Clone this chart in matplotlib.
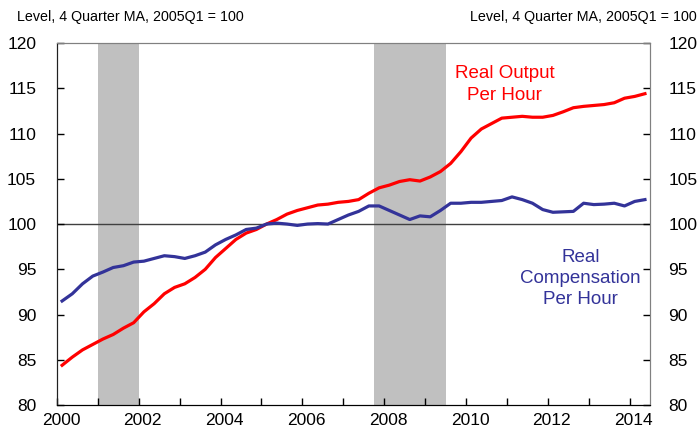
import matplotlib.pyplot as plt
import numpy as np
from matplotlib.transforms import ScaledTranslation

plt.rcParams['font.family'] = ['Liberation Sans', 'DejaVu Sans']

# quarterly, 2000Q1 .. 2014Q2 (4 quarter moving average, 2005Q1 = 100)
output_per_hour = [
    84.4, 85.3, 86.1, 86.7, 87.3, 87.8, 88.5, 89.1, 90.3, 91.2,
    92.3, 93.0, 93.4, 94.1, 95.0, 96.3, 97.3, 98.3, 99.0, 99.4,
    100.0, 100.5, 101.1, 101.5, 101.8, 102.1, 102.2, 102.4, 102.5, 102.7,
    103.4, 104.0, 104.3, 104.7, 104.9, 104.75, 105.2, 105.8, 106.7, 108.0,
    109.5, 110.5, 111.1, 111.7, 111.8, 111.9, 111.8, 111.8, 112.0, 112.4,
    112.85, 113.0, 113.1, 113.2, 113.4, 113.9, 114.1, 114.4,
]
comp_per_hour = [
    91.5, 92.3, 93.4, 94.25, 94.7, 95.2, 95.4, 95.8, 95.9, 96.2,
    96.5, 96.4, 96.2, 96.5, 96.9, 97.7, 98.3, 98.8, 99.4, 99.55,
    100.0, 100.1, 100.0, 99.85, 100.0, 100.05, 100.0, 100.5, 101.0, 101.4,
    102.0, 102.0, 101.5, 101.0, 100.5, 100.9, 100.8, 101.5, 102.3, 102.3,
    102.4, 102.4, 102.5, 102.6, 103.0, 102.7, 102.3, 101.6, 101.3, 101.35,
    101.4, 102.3, 102.15, 102.2, 102.3, 102.0, 102.5, 102.7,
]
recessions = [(2001.0, 2002.0), (2007.75, 2009.5)]
year_labels = ["2000", "2002", "2004", "2006", "2008", "2010", "2012", "2014"]
y_ticks = [80, 85, 90, 95, 100, 105, 110, 115, 120]

n = len(output_per_hour)
t = 2000 + (np.arange(n) + 0.5) / 4.0

fig = plt.figure(figsize=(6.99, 4.37), dpi=100)
ax = fig.add_axes([0.0815, 0.073, 0.8485, 0.8286])

for a, b in recessions:
    ax.axvspan(a, b, color='#c0c0c0', lw=0, zorder=0)
ax.axhline(100, color='#404040', lw=1.0, zorder=1)

ax.plot(t, output_per_hour, color='#ff0000', lw=2.3, zorder=3)
ax.plot(t, comp_per_hour, color='#333399', lw=2.3, zorder=3)

ax.set_xlim(2000, 2014.5)
ax.set_ylim(80, 120)
ax.set_yticks(y_ticks)
ax.set_yticklabels([str(v) for v in y_ticks])
ax.set_xticks([2000 + 2 * i for i in range(len(year_labels))])
ax.set_xticklabels(year_labels)
ax.set_xticks(np.arange(2001, 2015), minor=True)
ax.tick_params(axis='x', which='both', direction='in', length=5, width=1,
               labelsize=12.5, pad=6)
ax.tick_params(axis='y', direction='in', length=5, width=1, labelsize=12.5, pad=15)
off = ScaledTranslation(4 / 100, 0, fig.dpi_scale_trans)
for lab in ax.get_xticklabels():
    lab.set_transform(lab.get_transform() + off)

ax2 = ax.twinx()
ax2.set_ylim(80, 120)
ax2.set_yticks(y_ticks)
ax2.set_yticklabels([str(v) for v in y_ticks])
ax2.tick_params(axis='y', direction='in', length=5, width=1, labelsize=12.5, pad=13)

for a_ in (ax, ax2):
    a_.spines['top'].set_color('#808080')
    a_.spines['right'].set_color('#808080')
    a_.spines['left'].set_color('#202020')
    a_.spines['bottom'].set_color('#000000')

fig.text(0.025, 0.96, "Level, 4 Quarter MA, 2005Q1 = 100", fontsize=10.3,
         ha='left', va='center')
fig.text(0.997, 0.96, "Level, 4 Quarter MA, 2005Q1 = 100", fontsize=10.3,
         ha='right', va='center')

ax.text(2010.95, 115.4, "Real Output\nPer Hour", color='#ff0000', fontsize=13.5,
        ha='center', va='center', linespacing=1.4)
ax.text(2012.8, 94.0, "Real\nCompensation\nPer Hour", color='#333399',
        fontsize=13.5, ha='center', va='center', linespacing=1.3)

fig.savefig('out.png', dpi=100)
